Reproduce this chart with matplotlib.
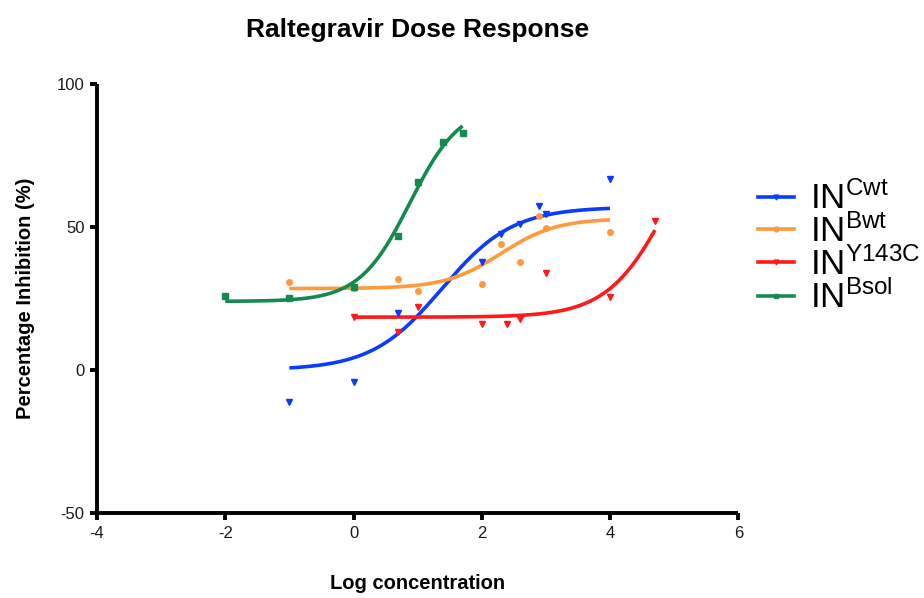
import numpy as np
import matplotlib
matplotlib.use("Agg")
import matplotlib.pyplot as plt
from matplotlib.lines import Line2D

plt.rcParams['font.family'] = ['Liberation Sans', 'DejaVu Sans']
plt.rcParams['mathtext.fontset'] = 'custom'
plt.rcParams['mathtext.rm'] = 'Liberation Sans'
plt.rcParams['mathtext.it'] = 'Liberation Sans:italic'
plt.rcParams['mathtext.bf'] = 'Liberation Sans:bold'
plt.rcParams['axes.unicode_minus'] = False

# ---- data ----
series_names = ["Cwt", "Bwt", "Y143C", "Bsol"]

cwt_x = [-1, 0, 0.7, 2, 2.3, 2.6, 2.9, 3, 4]
cwt_y = [-11, -4, 20, 37.8, 47.5, 51, 57.3, 54.5, 66.8]

bwt_x = [-1, 0, 0.7, 1, 2, 2.3, 2.6, 2.9, 3, 4]
bwt_y = [30.8, 28.7, 31.8, 27.6, 30.1, 44, 37.8, 53.8, 49.7, 48.3]

y143c_x = [0, 0.7, 1, 2, 2.4, 2.6, 3, 4, 4.7]
y143c_y = [18.5, 13.4, 22, 16, 16, 18, 34, 25.6, 52]

bsol_x = [-2, -1, 0, 0.7, 1, 1.4, 1.7]
bsol_y = [25.9, 25.2, 29, 46.9, 65.8, 79.7, 82.9]

# fitted 4-parameter logistic curves: bottom, top, logEC50, hill, x-range
cwt_fit = [0, 57, 1.38, 0.79, -1, 4]
bwt_fit = [28.5, 53, 2.3, 1.0, -1, 4]
y143c_fit = [18.5, 100, 4.95, 0.9, 0, 4.7]
bsol_fit = [24, 93, 0.88, 1.1, -2, 1.7]

x_ticks = [-4, -2, 0, 2, 4, 6]
y_ticks = [-50, 0, 50, 100]

colors = ['#0a3cff', '#ff9a3c', '#ff1a1a', '#138a4e']
markers = ['v', 'o', 'v', 's']


def logistic(x, bottom, top, c, h):
    return bottom + (top - bottom) / (1 + 10 ** ((c - x) * h))


fig = plt.figure(figsize=(9.24, 5.98), dpi=100)
ax = fig.add_axes([0.105, 0.142, 0.694, 0.7175])

datasets = [(cwt_x, cwt_y, cwt_fit), (bwt_x, bwt_y, bwt_fit),
            (y143c_x, y143c_y, y143c_fit), (bsol_x, bsol_y, bsol_fit)]

handles = []
for (xs, ys, fit), col, mk, name in zip(datasets, colors, markers, series_names):
    b, t, c, h, x0, x1 = fit
    xx = np.linspace(x0, x1, 300)
    ax.plot(xx, logistic(xx, b, t, c, h), color=col, lw=2.6, solid_capstyle='butt', zorder=3)
    ax.plot(xs, ys, linestyle='none', marker=mk, color=col, markersize=4, zorder=4)
    handles.append(Line2D([], [], color=col, lw=2.6, marker=mk, markersize=3.5,
                          label=r'$\mathrm{IN}^{\mathrm{' + name + '}}$'))

ax.set_xlim(-4, 6)
ax.set_ylim(-50, 100)
ax.set_xticks(x_ticks)
ax.set_yticks(y_ticks)
ax.spines['top'].set_visible(False)
ax.spines['right'].set_visible(False)
for s in ['left', 'bottom']:
    ax.spines[s].set_linewidth(2.8)
    ax.spines[s].set_capstyle('butt')
ax.tick_params(direction='out', length=5, width=2.8, labelsize=12, pad=4, color='black')
for lab in ax.get_xticklabels() + ax.get_yticklabels():
    lab.set_color('#1a1a1a')

ax.set_title("Raltegravir Dose Response", fontsize=19, fontweight='bold', pad=34)
ax.set_xlabel("Log concentration", fontsize=14.5, fontweight='bold', labelpad=24)
ax.set_ylabel("Percentage Inhibition (%)", fontsize=14.5, fontweight='bold', labelpad=16)

leg = fig.legend(handles=handles, loc='upper left', bbox_to_anchor=(0.805, 0.72),
                 frameon=False, fontsize=25, handlelength=1.05, handletextpad=0.45,
                 labelspacing=-0.05, numpoints=1, borderaxespad=0)

fig.savefig("out.png", dpi=100)
